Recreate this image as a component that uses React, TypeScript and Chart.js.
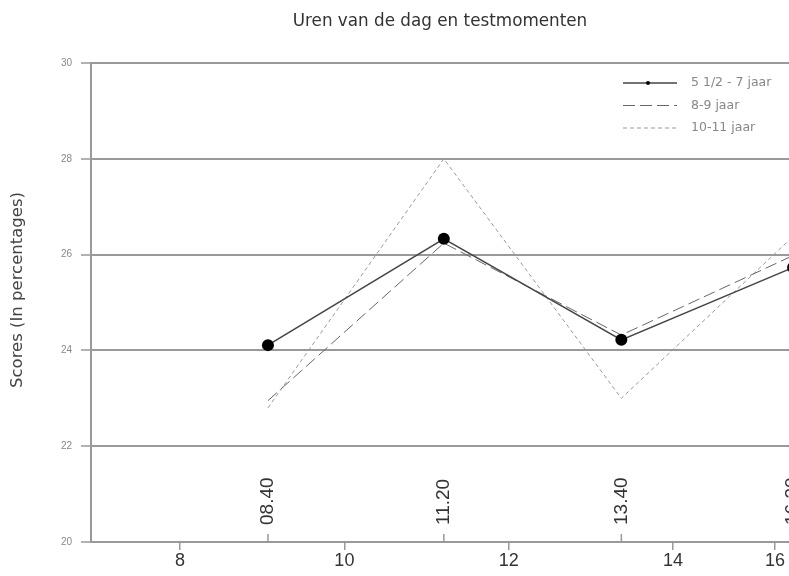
import React, { useEffect, useRef } from "react";
import { Chart, registerables } from "chart.js";

Chart.register(...registerables);

const chartTitle = "Uren van de dag en testmomenten";
const yTitle = "Scores (In percentages)";
const seriesNames = ["5 1/2 - 7 jaar", "8-9 jaar", "10-11 jaar"];
const timeLabels = ["08.40", "11.20", "13.40", "16.30"];
const timeX = [9.07, 11.21, 13.37, 15.46];
const series1 = [24.11, 26.33, 24.22, 25.73];
const series2 = [22.95, 26.24, 24.32, 25.98];
const series3 = [22.8, 28.0, 23.0, 26.38];
const xTickValues = [8, 10, 12, 14, 15.24];
const xTickLabels = ["8", "10", "12", "14", "16"];
const yTickValues = [20, 22, 24, 26, 28, 30];

const SANS = '"Liberation Sans", Arial, sans-serif';
const WIDE = '"DejaVu Sans", "Liberation Sans", sans-serif';
const NARROW = '"Liberation Sans Narrow", "Liberation Sans", Arial, sans-serif';

const overlay = {
  id: "overlay",
  afterDraw(chart: any) {
    const { ctx, chartArea, scales } = chart;
    const xs = scales.x;
    ctx.save();
    // title
    ctx.fillStyle = "#333";
    ctx.font = `16.8px ${WIDE}`;
    ctx.textAlign = "center";
    ctx.textBaseline = "middle";
    ctx.fillText(chartTitle, (chartArea.left + chartArea.right) / 2, 22);

    // y title
    ctx.save();
    ctx.translate(18, 290);
    ctx.rotate(-Math.PI / 2);
    ctx.fillStyle = "#444";
    ctx.font = `16.5px ${WIDE}`;
    ctx.textAlign = "center";
    ctx.textBaseline = "middle";
    ctx.fillText(yTitle, 0, 0);
    ctx.restore();

    // moment labels and ticks
    timeLabels.forEach((lab, i) => {
      const px = xs.getPixelForValue(timeX[i]);
      ctx.strokeStyle = "#999";
      ctx.lineWidth = 1.5;
      ctx.beginPath();
      ctx.moveTo(px, chartArea.bottom);
      ctx.lineTo(px, chartArea.bottom - 8);
      ctx.stroke();
      ctx.save();
      ctx.translate(px, chartArea.bottom - 17);
      ctx.rotate(-Math.PI / 2);
      ctx.fillStyle = "#333";
      ctx.font = `19px ${SANS}`;
      ctx.textAlign = "left";
      ctx.textBaseline = "middle";
      ctx.fillText(lab, 0, 0);
      ctx.restore();
    });

    // legend
    chart.data.datasets.forEach((ds: any, i: number) => {
      const y = 83 + i * 22.5;
      ctx.strokeStyle = ds.borderColor;
      ctx.lineWidth = ds.borderWidth;
      ctx.setLineDash(ds.borderDash || []);
      ctx.beginPath();
      ctx.moveTo(623, y);
      ctx.lineTo(677, y);
      ctx.stroke();
      ctx.setLineDash([]);
      if (i === 0) {
        ctx.fillStyle = "#000";
        ctx.beginPath();
        ctx.arc(648, y, 2, 0, Math.PI * 2);
        ctx.fill();
      }
      ctx.fillStyle = "#888";
      ctx.font = `12.5px ${WIDE}`;
      ctx.textAlign = "left";
      ctx.textBaseline = "middle";
      ctx.fillText(seriesNames[i], 691, y);
    });
    ctx.restore();
  },
};

export default function App() {
  const ref = useRef<HTMLCanvasElement>(null);
  useEffect(() => {
    if (!ref.current) return;
    const mk = (arr: number[]) => arr.map((v, i) => ({ x: timeX[i], y: v }));
    const chart = new Chart(ref.current, {
      type: "line",
      data: {
        datasets: [
          {
            label: seriesNames[0],
            data: mk(series1),
            borderColor: "#444",
            borderWidth: 1.5,
            borderDash: [],
            pointRadius: 6,
            pointBackgroundColor: "#000",
            pointBorderWidth: 0,
          },
          {
            label: seriesNames[1],
            data: mk(series2),
            borderColor: "#666",
            borderWidth: 1,
            borderDash: [12, 5],
            pointRadius: 0,
          },
          {
            label: seriesNames[2],
            data: mk(series3),
            borderColor: "#999",
            borderWidth: 1,
            borderDash: [4, 3],
            pointRadius: 0,
          },
        ],
      },
      options: {
        animation: false,
        responsive: false,
        devicePixelRatio: 1,
        layout: { autoPadding: false, padding: { top: 63, left: 0, right: 0, bottom: 0 } },
        plugins: { legend: { display: false }, title: { display: false }, tooltip: { enabled: false } },
        scales: {
          x: {
            type: "linear",
            min: 6.917,
            max: 15.41,
            afterFit: (s: any) => {
              s.height = 34;
              s.paddingRight = 0;
              s.paddingLeft = 0;
            },
            afterBuildTicks: (s: any) => {
              s.ticks = xTickValues.map((v) => ({ value: v }));
            },
            ticks: {
              callback: (_v: any, i: number) => xTickLabels[i],
              font: { size: 18, family: NARROW },
              color: "#333",
              maxRotation: 0,
              autoSkip: false,
              padding: 0,
            },
            grid: { drawOnChartArea: false, tickLength: 8, color: "#999", lineWidth: 1.5 },
            border: { display: true, color: "#999", width: 2 },
          },
          y: {
            type: "linear",
            min: 20,
            max: 30,
            afterFit: (s: any) => {
              s.width = 91;
            },
            afterBuildTicks: (s: any) => {
              s.ticks = yTickValues.map((v) => ({ value: v }));
            },
            ticks: { font: { size: 10, family: NARROW }, color: "#888", padding: 9 },
            grid: { color: "#999", lineWidth: 2, tickLength: 10, tickColor: "#999", tickWidth: 1.5 },
            border: { display: true, color: "#999", width: 2 },
          },
        },
      },
      plugins: [overlay],
    });
    return () => chart.destroy();
  }, []);
  return (
    <div style={{ position: "fixed", left: 0, top: 0, width: 789, height: 576, background: "#fff", overflow: "hidden" }}>
      <canvas ref={ref} width={789} height={576} style={{ display: "block" }} />
    </div>
  );
}
